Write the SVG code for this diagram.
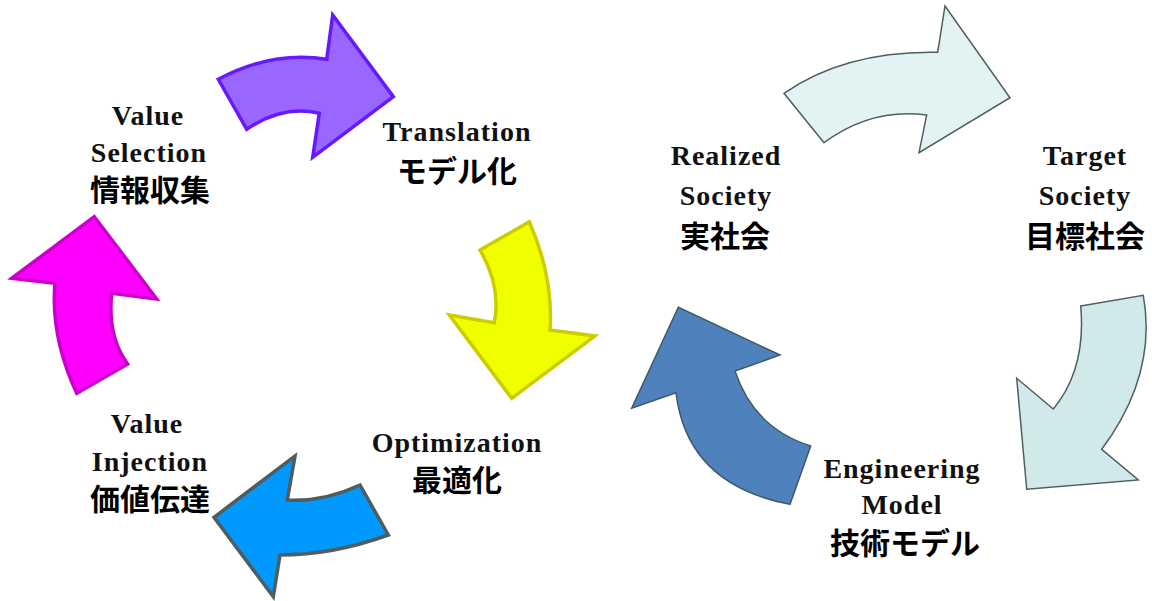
<svg xmlns="http://www.w3.org/2000/svg" width="1152" height="601" viewBox="0 0 1152 601">
<style>
.en{font-family:"Liberation Serif","Times New Roman",serif;font-weight:bold;font-size:28px;letter-spacing:1px;fill:#111;text-anchor:middle}
.ja{font-family:"Noto Sans CJK JP","Noto Sans",sans-serif;font-weight:bold;font-size:30px;fill:#000;text-anchor:middle}
.arr{stroke-linejoin:miter}
</style>
<rect width="1152" height="601" fill="#fff"/>
<g id="connectors">
<path id="purple" class="arr" d="M218.3,79.3 Q271.5,50.7 326.7,59.3 L332.7,15 L393.3,96.7 L312.7,157.3 L319.3,113.3 Q283,104.7 246.7,129.3 Z" fill="#9966FF" stroke="#6619FF" stroke-width="3.5"/>
<path id="magenta" class="arr" d="M94.3,216.7 L156.7,299 L111.7,293.3 Q107.3,337.3 127.7,364 L76.7,393.3 Q50.2,335.7 55,283.3 L11.7,278.3 Z" fill="#FF00FF" stroke="#CC00CC" stroke-width="3.5"/>
<path id="blue" class="arr" d="M214,517.3 L295,456 L287.3,500 Q323,502.1 360,485 L388.3,535 Q332.5,555 280,555 L273.3,596.7 Z" fill="#0099FF" stroke="#4F5D5E" stroke-width="3.5"/>
<path id="yellow" class="arr" d="M480,250 L529.3,221.7 Q553.7,277.5 550,330 L595,336 L511.7,398.3 L449.3,315 L494.3,322.7 Q501.5,287 480,250 Z" fill="#F0FF00" stroke="#CCCC00" stroke-width="3.5"/>
<path id="darkblue" class="arr" d="M678.3,307.3 L780,355 L735,371 Q753.8,428.1 810.7,446 L790,504.3 Q687,484.9 676,392.7 L631.7,408.3 Z" fill="#4F81BD" stroke="#3F5A66" stroke-width="1.5"/>
<path id="lighttop" class="arr" d="M784,93.3 Q845.8,50.6 937.7,52.3 L945,6 L1010,97.7 L919,152.7 L926.7,115 Q871.3,107.8 824,142.7 Z" fill="#E3F2F3" stroke="#4F5F5F" stroke-width="1.5"/>
<path id="lightright" class="arr" d="M1080.7,306 L1143.3,295.3 Q1157.5,374.3 1101.7,449.3 L1138.3,480 L1026.7,489.3 L1016.7,378.3 L1053.3,409 Q1086.4,369 1080.7,306 Z" fill="#D1E9EB" stroke="#4F5F5F" stroke-width="1.5"/>
</g>
<g id="value-selection">
<text class="en" x="148" y="125">Value</text>
<text class="en" x="149" y="162">Selection</text>
<text class="ja" x="150" y="201">情報収集</text>
</g>
<g id="translation">
<text class="en" x="457" y="141">Translation</text>
<text class="ja" x="457" y="182">モデル化</text>
</g>
<g id="realized-society">
<text class="en" x="726" y="165">Realized</text>
<text class="en" x="726" y="205">Society</text>
<text class="ja" x="725" y="247">実社会</text>
</g>
<g id="target-society">
<text class="en" x="1085" y="165">Target</text>
<text class="en" x="1085" y="205">Society</text>
<text class="ja" x="1085" y="247">目標社会</text>
</g>
<g id="value-injection">
<text class="en" x="147" y="433">Value</text>
<text class="en" x="150" y="471">Injection</text>
<text class="ja" x="150" y="510">価値伝達</text>
</g>
<g id="optimization">
<text class="en" x="457" y="452">Optimization</text>
<text class="ja" x="457" y="491">最適化</text>
</g>
<g id="engineering-model">
<text class="en" x="902" y="478">Engineering</text>
<text class="en" x="902" y="514">Model</text>
<text class="ja" x="905" y="554">技術モデル</text>
</g>
</svg>
